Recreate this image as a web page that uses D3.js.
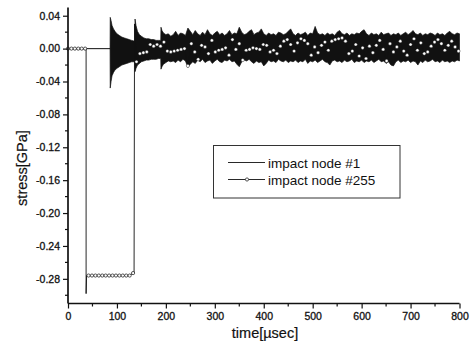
<html>
<head>
	<script src="https://d3js.org/d3.v7.min.js"></script>
</head>
<body style="margin:0; padding:0; background:#fff;">
	<script>
	// tick values
	var xTicks = [0, 100, 200, 300, 400, 500, 600, 700, 800];
	var xMinor = [50, 150, 250, 350, 450, 550, 650, 750];
	var yTicks = [-0.28, -0.24, -0.20, -0.16, -0.12, -0.08, -0.04, 0.00, 0.04];
	var yMinor = [-0.30, -0.26, -0.22, -0.18, -0.14, -0.10, -0.06, -0.02, 0.02];

	var legendNames = ["impact node #1", "impact node #255"];

	// impact node #1 : the oscillation is drawn as its upper / lower envelope
	var envT = [0, 86, 86.3, 88, 90, 93, 96, 100, 105, 110, 115, 120, 125, 130, 136.5,
		137, 139, 142, 146, 150, 155, 160, 165, 170, 175, 180, 185, 189.5,
		190, 192, 195, 200, 205, 210,
		215, 220, 225, 230, 235, 240, 245, 250, 255, 260,
		265, 270, 275, 280, 285, 290, 295, 300, 305, 310,
		315, 320, 325, 330, 335, 340, 345, 350, 355, 360,
		365, 370, 375, 380, 385, 390, 395, 400, 405, 410,
		415, 420, 425, 430, 435, 440, 445, 450, 455, 460,
		465, 470, 475, 480, 485, 490, 495, 500, 505, 510,
		515, 520, 525, 530, 535, 540, 545, 550, 555, 560,
		565, 570, 575, 580, 585, 590, 595, 600, 605, 610,
		615, 620, 625, 630, 635, 640, 645, 650, 655, 660,
		665, 670, 675, 680, 685, 690, 695, 700, 705, 710,
		715, 720, 725, 730, 735, 740, 745, 750, 755, 760,
		765, 770, 775, 780, 785, 790, 795, 800];
	var envHi = [0, 0, 0.038, 0.034, 0.028, 0.024, 0.021, 0.018, 0.016, 0.014, 0.013, 0.012, 0.011, 0.010, 0.009,
		0.036, 0.028, 0.021, 0.017, 0.015, 0.013, 0.012, 0.012, 0.011, 0.011, 0.010, 0.010, 0.010,
		0.026, 0.022, 0.019, 0.017, 0.018, 0.015,
		0.017, 0.021, 0.016, 0.019, 0.018, 0.016, 0.025, 0.021, 0.017, 0.022,
		0.018, 0.016, 0.020, 0.017, 0.023, 0.018, 0.016, 0.019, 0.021, 0.017,
		0.019, 0.016, 0.018, 0.022, 0.017, 0.019, 0.018, 0.026, 0.020, 0.017,
		0.018, 0.021, 0.023, 0.017, 0.019, 0.020, 0.024, 0.018, 0.016, 0.019,
		0.017, 0.018, 0.016, 0.020, 0.019, 0.017, 0.018, 0.021, 0.024, 0.018,
		0.016, 0.019, 0.017, 0.018, 0.020, 0.016, 0.019, 0.018, 0.027, 0.019,
		0.017, 0.018, 0.016, 0.019, 0.017, 0.018, 0.016, 0.020, 0.022, 0.018,
		0.017, 0.019, 0.016, 0.018, 0.017, 0.019, 0.018, 0.021, 0.023, 0.018,
		0.016, 0.019, 0.017, 0.018, 0.016, 0.020, 0.017, 0.018, 0.019, 0.016,
		0.018, 0.017, 0.019, 0.016, 0.018, 0.020, 0.017, 0.019, 0.022, 0.018,
		0.017, 0.019, 0.016, 0.018, 0.017, 0.019, 0.018, 0.016, 0.019, 0.017,
		0.018, 0.016, 0.019, 0.021, 0.018, 0.017, 0.019, 0.018];
	var envLo = [0, 0, -0.048, -0.040, -0.033, -0.029, -0.026, -0.024, -0.022, -0.020, -0.019, -0.018, -0.017, -0.016, -0.016,
		-0.028, -0.024, -0.020, -0.018, -0.016, -0.015, -0.014, -0.014, -0.013, -0.013, -0.013, -0.012, -0.012,
		-0.025, -0.022, -0.019, -0.017, -0.015, -0.016,
		-0.015, -0.017, -0.014, -0.016, -0.013, -0.015, -0.023, -0.019, -0.016, -0.018,
		-0.014, -0.016, -0.013, -0.017, -0.015, -0.014, -0.018, -0.015, -0.013, -0.016,
		-0.017, -0.014, -0.015, -0.013, -0.016, -0.015, -0.019, -0.022, -0.016, -0.014,
		-0.015, -0.013, -0.016, -0.018, -0.015, -0.017, -0.016, -0.021, -0.018, -0.014,
		-0.016, -0.015, -0.017, -0.013, -0.015, -0.016, -0.014, -0.017, -0.015, -0.016,
		-0.014, -0.017, -0.015, -0.016, -0.013, -0.018, -0.015, -0.016, -0.014, -0.017,
		-0.015, -0.013, -0.016, -0.017, -0.020, -0.015, -0.014, -0.016, -0.015, -0.017,
		-0.014, -0.016, -0.015, -0.013, -0.017, -0.015, -0.016, -0.014, -0.017, -0.015,
		-0.016, -0.014, -0.017, -0.015, -0.013, -0.016, -0.015, -0.018, -0.016, -0.020,
		-0.021, -0.016, -0.014, -0.017, -0.015, -0.016, -0.014, -0.017, -0.015, -0.016,
		-0.020, -0.015, -0.017, -0.014, -0.016, -0.015, -0.013, -0.016, -0.015, -0.017,
		-0.014, -0.016, -0.015, -0.017, -0.015, -0.016, -0.014, -0.015];

	// impact node #255 : the circled samples
	var t255 = [0, 7, 14, 21, 28, 35,
		42, 49, 56, 63, 70, 77, 84, 91, 98, 105, 112, 119, 126, 133,
		140, 147, 154, 161, 168, 175, 182, 189, 196, 203,
		210, 217, 224, 231, 238, 245, 252, 259, 266, 273,
		280, 287, 294, 301, 308, 315, 322, 329, 336, 343,
		350, 357, 364, 371, 378, 385, 392, 399, 406, 413,
		420, 427, 434, 441, 448, 455, 462, 469, 476, 483,
		490, 497, 504, 511, 518, 525, 532, 539, 546, 553,
		560, 567, 574, 581, 588, 595, 602, 609, 616, 623,
		630, 637, 644, 651, 658, 665, 672, 679, 686, 693,
		700, 707, 714, 721, 728, 735, 742, 749, 756, 763,
		770, 777, 784, 791, 798];
	var s255 = [0, 0, 0, 0, 0, 0,
		-0.276, -0.276, -0.276, -0.276, -0.276, -0.276, -0.276, -0.276, -0.276, -0.276, -0.276, -0.276, -0.276, -0.273,
		-0.016, -0.006, -0.005, -0.004, 0.005, 0.003, 0.005, 0.003, 0.008, -0.003,
		-0.004, -0.003, -0.002, -0.001, 0.000, -0.021, 0.006, -0.004, -0.013, 0.004,
		0.002, -0.006, 0.010, -0.004, -0.002, -0.001, 0.001, -0.008, 0.011, -0.001,
		0.006, -0.014, -0.002, -0.001, 0.001, 0.000, -0.001, 0.005, 0.004, -0.004,
		-0.002, -0.006, 0.003, 0.009, 0.011, 0.005, -0.003, 0.007, 0.012, 0.010,
		0.006, -0.008, 0.002, -0.005, 0.004, 0.008, -0.002, 0.009, 0.011, 0.012,
		0.013, 0.009, -0.006, -0.003, 0.005, -0.009, 0.001, -0.012, 0.003, -0.005,
		0.004, 0.010, -0.001, -0.015, 0.006, -0.004, 0.002, 0.009, -0.003, -0.008,
		0.005, 0.012, -0.002, 0.007, -0.006, -0.004, 0.003, 0.008, 0.011, 0.006,
		-0.002, 0.004, 0.009, 0.002, -0.003];
	// points of the #255 line that carry no circle (the jumps)
	var jumpT = [37, 37, 38, 135, 136];
	var jumpS = [0, -0.298, -0.276, -0.273, 0.030];

	var width = 474, height = 352;

	var x = d3.scaleLinear().domain([0, 800]).range([68, 459.5]);
	var y = d3.scaleLinear().domain([-0.31, 0.05]).range([303.5, 7.5]);

	var svg = d3.select("body").append("svg")
		.attr("width", width)
		.attr("height", height)
		.style("font-family", "'Liberation Sans', Arial, sans-serif");

	var ink = "#111";

	// node #1 band
	var env = envT.map(function (t, i) { return {t: t, hi: envHi[i], lo: envLo[i]}; });
	var area = d3.area()
		.x(function (d) { return x(d.t); })
		.y0(function (d) { return y(d.lo); })
		.y1(function (d) { return y(d.hi); });
	svg.append("path")
		.datum(env)
		.attr("d", area)
		.attr("fill", ink)
		.attr("stroke", ink)
		.attr("stroke-width", 0.7);

	// node #255 line + circles
	var marks = t255.map(function (t, i) { return {t: t, s: s255[i]}; });
	var linePts = marks.concat(jumpT.map(function (t, i) { return {t: t, s: jumpS[i], j: i}; }))
		.sort(function (a, b) { return a.t - b.t || (a.j === undefined ? -1 : (b.j === undefined ? 1 : a.j - b.j)); });
	var line = d3.line()
		.x(function (d) { return x(d.t); })
		.y(function (d) { return y(d.s); });
	svg.append("path")
		.datum(linePts)
		.attr("d", line)
		.attr("fill", "none")
		.attr("stroke", ink)
		.attr("stroke-width", 0.9);
	svg.selectAll("circle.m")
		.data(marks)
		.enter()
		.append("circle")
			.attr("class", "m")
			.attr("cx", function (d) { return x(d.t); })
			.attr("cy", function (d) { return y(d.s); })
			.attr("r", 1.6)
			.attr("fill", "#fff")
			.attr("stroke", ink)
			.attr("stroke-width", function (d) { return d.t > 136 ? 0.4 : 0.7; });

	// axes
	var xAxis = svg.append("g").attr("transform", "translate(0," + y(-0.31) + ")")
		.call(d3.axisBottom(x).tickValues(xTicks).tickSize(5).tickFormat(d3.format("d")));
	xAxis.append("g").selectAll("line").data(xMinor).enter().append("line")
		.attr("x1", function (d) { return x(d); }).attr("x2", function (d) { return x(d); })
		.attr("y1", 0).attr("y2", 3);

	var yAxis = svg.append("g").attr("transform", "translate(" + x(0) + ",0)")
		.call(d3.axisLeft(y).tickValues(yTicks).tickSize(5).tickFormat(function (d) { return d.toFixed(2); }));
	yAxis.append("g").selectAll("line").data(yMinor).enter().append("line")
		.attr("y1", function (d) { return y(d); }).attr("y2", function (d) { return y(d); })
		.attr("x1", 0).attr("x2", -3);

	svg.selectAll(".domain").attr("stroke", ink).attr("stroke-width", 1.7);
	svg.selectAll(".tick line").attr("stroke", ink).attr("stroke-width", 1.2);
	svg.selectAll("g g line").attr("stroke", ink).attr("stroke-width", 1.2);
	svg.selectAll(".tick text")
		.attr("fill", ink)
		.attr("stroke", ink)
		.attr("stroke-width", 0.3)
		.style("font-size", "10.5px")
		.style("font-family", "'Liberation Sans', Arial, sans-serif");
	yAxis.selectAll(".tick text").attr("x", -8);
	xAxis.selectAll(".tick text").attr("y", 9);

	// flat domain ends (no outer tick caps)
	xAxis.select(".domain").attr("d", "M" + x(0) + ",0H" + x(800));
	yAxis.select(".domain").attr("d", "M0," + y(-0.31) + "V" + y(0.05));

	// axis titles
	svg.append("text")
		.attr("x", 265).attr("y", 338)
		.attr("text-anchor", "middle")
		.attr("fill", ink)
		.attr("stroke", ink)
		.attr("stroke-width", 0.2)
		.style("font-size", "14.5px")
		.text("time[\u00b5sec]");
	svg.append("text")
		.attr("transform", "translate(27,168) rotate(-90)")
		.attr("text-anchor", "middle")
		.attr("fill", ink)
		.attr("stroke", ink)
		.attr("stroke-width", 0.2)
		.style("font-size", "14.5px")
		.text("stress[GPa]");

	// legend
	var lg = svg.append("g");
	lg.append("rect")
		.attr("x", 213.5).attr("y", 145.5)
		.attr("width", 186.5).attr("height", 52.5)
		.attr("fill", "#fff")
		.attr("stroke", "#333")
		.attr("stroke-width", 1);
	var rows = lg.selectAll("g.row").data(legendNames).enter().append("g")
		.attr("class", "row")
		.attr("transform", function (d, i) { return "translate(0," + (162.5 + i * 17) + ")"; });
	rows.append("line")
		.attr("x1", 228).attr("x2", 265)
		.attr("stroke", ink).attr("stroke-width", 0.9);
	rows.filter(function (d, i) { return i === 1; }).append("circle")
		.attr("cx", 247).attr("cy", 0).attr("r", 1.6)
		.attr("fill", "#fff").attr("stroke", ink).attr("stroke-width", 0.7);
	rows.append("text")
		.attr("x", 268).attr("y", 5)
		.attr("fill", ink)
		.style("font-size", "13.5px")
		.text(function (d) { return d; });
	</script>
</body>
</html>
